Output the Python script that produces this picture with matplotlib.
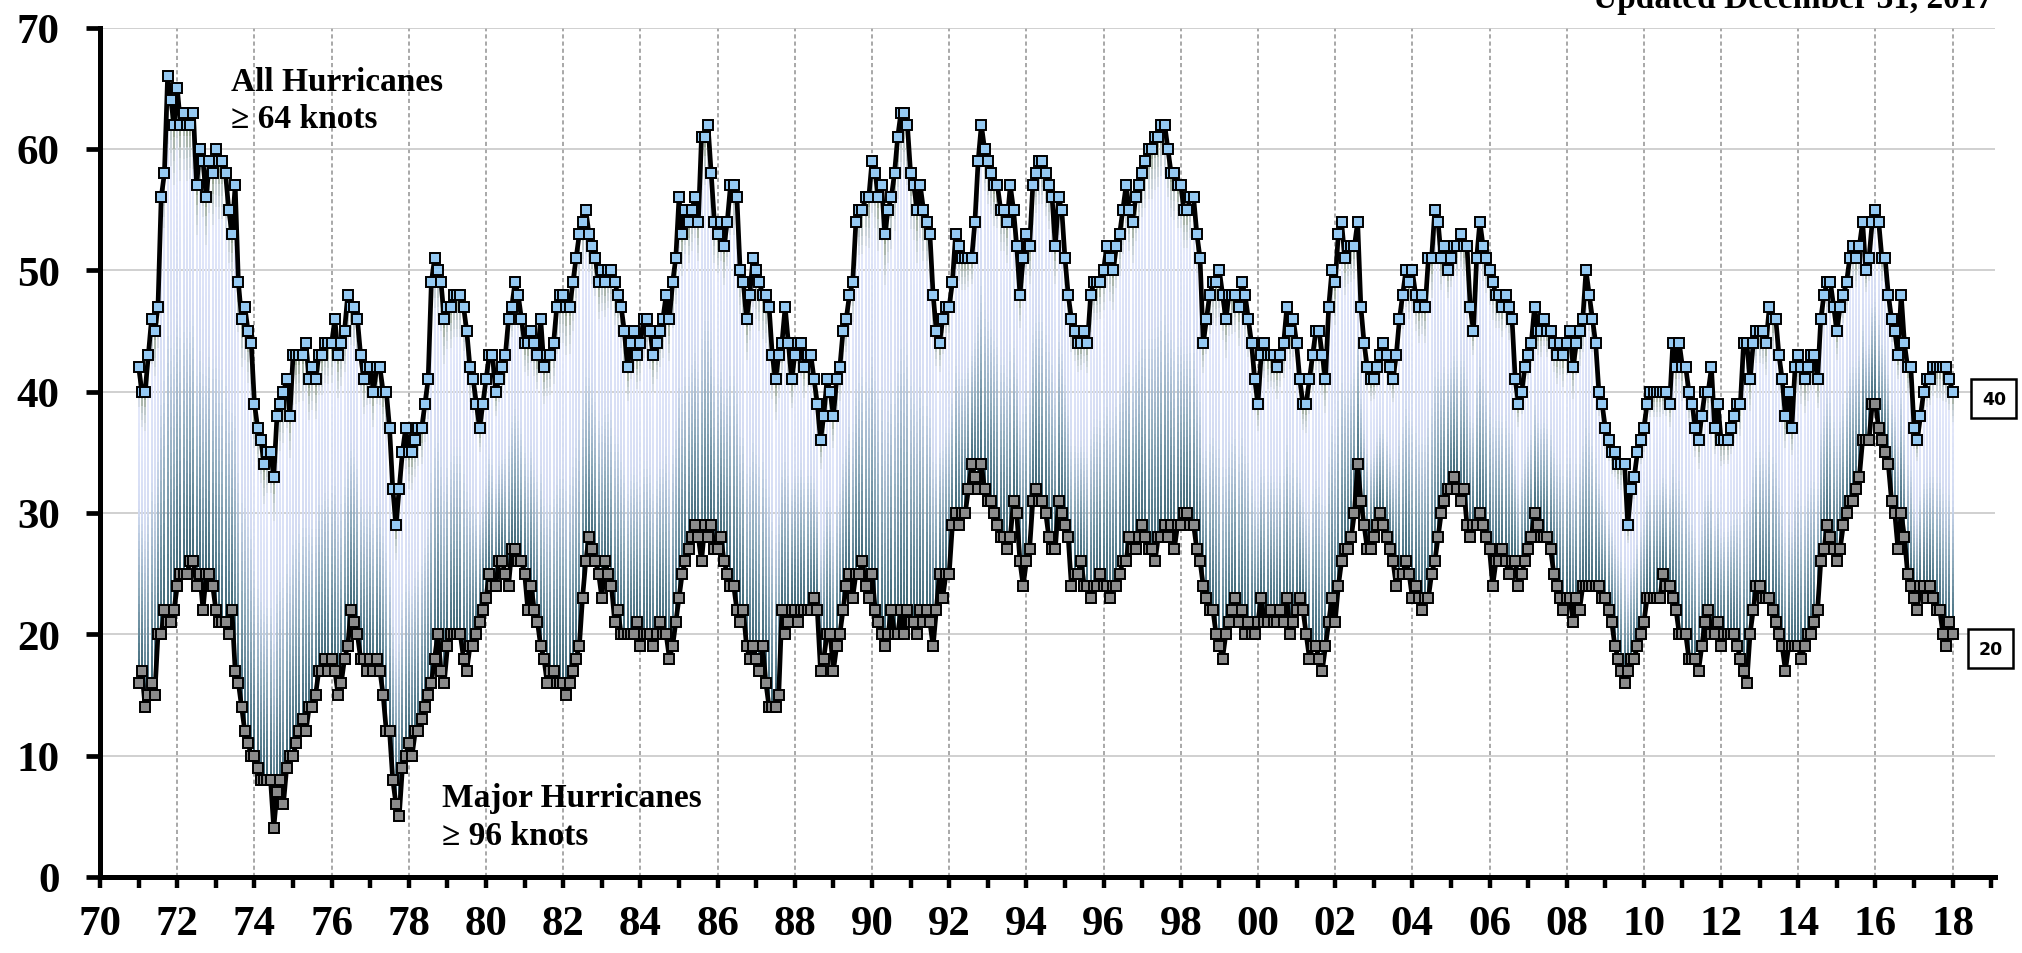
import numpy as np
import matplotlib
matplotlib.use("Agg")
import matplotlib.pyplot as plt
from matplotlib.collections import LineCollection
from matplotlib.colors import LinearSegmentedColormap

# 12-month running counts, one point per month starting Jan 1971
start_year = 1971
all_hurricanes = [
    42, 40, 40, 43, 46, 45, 47, 56, 58, 66, 64, 62,  # 1971
    65, 62, 63, 62, 62, 63, 57, 60, 59, 56, 59, 58,  # 1972
    60, 59, 59, 58, 55, 53, 57, 49, 46, 47, 45, 44,  # 1973
    39, 37, 36, 34, 35, 35, 33, 38, 39, 40, 41, 38,  # 1974
    43, 43, 43, 43, 44, 41, 42, 41, 43, 43, 44, 44,  # 1975
    44, 46, 43, 44, 45, 48, 47, 47, 46, 43, 41, 42,  # 1976
    42, 40, 42, 42, 40, 40, 37, 32, 29, 32, 35, 37,  # 1977
    35, 35, 36, 37, 37, 39, 41, 49, 51, 50, 49, 46,  # 1978
    47, 47, 48, 48, 48, 47, 45, 42, 41, 39, 37, 39,  # 1979
    41, 43, 43, 40, 41, 42, 43, 46, 47, 49, 48, 46,  # 1980
    44, 44, 45, 44, 43, 46, 42, 43, 43, 44, 47, 48,  # 1981
    48, 47, 47, 49, 51, 53, 54, 55, 53, 52, 51, 49,  # 1982
    50, 49, 50, 50, 49, 48, 47, 45, 42, 44, 45, 43,  # 1983
    44, 46, 46, 45, 43, 44, 45, 46, 48, 46, 49, 51,  # 1984
    56, 53, 55, 54, 55, 56, 54, 61, 61, 62, 58, 54,  # 1985
    53, 54, 52, 54, 57, 57, 56, 50, 49, 46, 48, 51,  # 1986
    50, 49, 48, 48, 47, 43, 41, 43, 44, 47, 44, 41,  # 1987
    43, 44, 44, 42, 43, 43, 41, 39, 36, 38, 41, 40,  # 1988
    38, 41, 42, 45, 46, 48, 49, 54, 55, 55, 56, 56,  # 1989
    59, 58, 56, 57, 53, 55, 56, 58, 61, 63, 63, 62,  # 1990
    58, 57, 55, 57, 55, 54, 53, 48, 45, 44, 46, 47,  # 1991
    47, 49, 53, 52, 51, 51, 51, 51, 54, 59, 62, 60,  # 1992
    59, 58, 57, 57, 55, 55, 54, 57, 55, 52, 48, 51,  # 1993
    53, 52, 57, 58, 59, 59, 58, 57, 56, 52, 56, 55,  # 1994
    51, 48, 46, 45, 44, 44, 45, 44, 48, 49, 49, 49,  # 1995
    50, 52, 51, 50, 52, 53, 55, 57, 55, 54, 56, 57,  # 1996
    58, 59, 60, 60, 61, 61, 62, 62, 60, 58, 58, 57,  # 1997
    57, 55, 55, 56, 56, 53, 51, 44, 46, 48, 49, 49,  # 1998
    50, 48, 46, 48, 48, 48, 47, 49, 48, 46, 44, 41,  # 1999
    39, 43, 44, 43, 43, 43, 42, 43, 44, 47, 45, 46,  # 2000
    44, 41, 39, 39, 41, 43, 45, 45, 43, 41, 47, 50,  # 2001
    49, 53, 54, 51, 52, 52, 52, 54, 47, 44, 42, 41,  # 2002
    41, 42, 43, 44, 43, 42, 41, 43, 46, 48, 50, 49,  # 2003
    50, 48, 47, 48, 47, 51, 51, 55, 54, 51, 52, 50,  # 2004
    51, 52, 52, 53, 52, 52, 47, 45, 51, 54, 52, 51,  # 2005
    50, 49, 48, 48, 47, 48, 47, 46, 41, 39, 40, 42,  # 2006
    43, 44, 47, 45, 45, 46, 45, 45, 44, 43, 44, 43,  # 2007
    44, 45, 42, 44, 45, 46, 50, 48, 46, 44, 40, 39,  # 2008
    37, 36, 35, 35, 34, 34, 34, 29, 32, 33, 35, 36,  # 2009
    37, 39, 40, 40, 40, 40, 40, 40, 39, 44, 42, 44,  # 2010
    42, 42, 40, 39, 37, 36, 38, 40, 40, 42, 37, 39,  # 2011
    36, 36, 36, 37, 38, 39, 39, 44, 44, 41, 44, 45,  # 2012
    45, 45, 44, 47, 46, 46, 43, 41, 38, 40, 37, 42,  # 2013
    43, 42, 41, 42, 43, 43, 41, 46, 48, 49, 49, 47,  # 2014
    45, 47, 48, 49, 51, 52, 51, 52, 54, 50, 51, 54,  # 2015
    55, 54, 51, 51, 48, 46, 45, 43, 48, 44, 42, 42,  # 2016
    37, 36, 38, 40, 41, 41, 42, 42, 42, 42, 42, 41, 40,  # 2017
]
major_hurricanes = [
    16, 17, 14, 15, 16, 15, 20, 20, 22, 21, 21, 22,  # 1971
    24, 25, 25, 25, 26, 26, 24, 25, 22, 25, 25, 24,  # 1972
    22, 21, 21, 21, 20, 22, 17, 16, 14, 12, 11, 10,  # 1973
    10, 9, 8, 8, 8, 8, 4, 7, 8, 6, 9, 10,  # 1974
    10, 11, 12, 13, 12, 14, 14, 15, 17, 17, 18, 17,  # 1975
    18, 17, 15, 16, 18, 19, 22, 21, 20, 18, 18, 17,  # 1976
    18, 17, 18, 17, 15, 12, 12, 8, 6, 5, 9, 10,  # 1977
    11, 10, 12, 12, 13, 14, 15, 16, 18, 20, 17, 16,  # 1978
    19, 20, 20, 20, 20, 18, 17, 19, 19, 20, 21, 22,  # 1979
    23, 25, 24, 24, 26, 26, 25, 24, 27, 27, 26, 26,  # 1980
    25, 22, 24, 22, 21, 19, 18, 16, 17, 17, 16, 16,  # 1981
    16, 15, 16, 17, 18, 19, 23, 26, 28, 27, 26, 25,  # 1982
    23, 26, 25, 24, 21, 22, 20, 20, 20, 20, 20, 21,  # 1983
    19, 20, 20, 20, 19, 20, 21, 20, 20, 18, 19, 21,  # 1984
    23, 25, 26, 27, 28, 29, 28, 26, 29, 28, 29, 27,  # 1985
    27, 28, 26, 25, 24, 24, 22, 21, 22, 19, 18, 19,  # 1986
    18, 17, 19, 16, 14, 14, 14, 15, 22, 20, 21, 22,  # 1987
    22, 21, 22, 22, 22, 22, 23, 22, 17, 18, 20, 20,  # 1988
    17, 19, 20, 22, 24, 25, 23, 25, 25, 26, 24, 23,  # 1989
    25, 22, 21, 20, 19, 20, 22, 20, 20, 22, 20, 22,  # 1990
    21, 21, 20, 22, 21, 22, 21, 19, 22, 25, 23, 25,  # 1991
    25, 29, 30, 29, 30, 30, 32, 34, 33, 32, 34, 32,  # 1992
    31, 31, 30, 29, 28, 28, 27, 28, 31, 30, 26, 24,  # 1993
    26, 27, 31, 32, 31, 31, 30, 28, 27, 27, 31, 30,  # 1994
    29, 28, 24, 25, 25, 26, 24, 24, 23, 24, 24, 25,  # 1995
    24, 24, 23, 24, 24, 25, 26, 26, 28, 27, 27, 28,  # 1996
    29, 28, 27, 27, 26, 28, 28, 29, 28, 29, 27, 29,  # 1997
    29, 30, 30, 29, 29, 27, 26, 24, 23, 22, 22, 20,  # 1998
    19, 18, 20, 21, 22, 23, 21, 22, 20, 21, 20, 20,  # 1999
    21, 23, 21, 21, 22, 21, 21, 22, 21, 23, 20, 21,  # 2000
    22, 23, 22, 20, 18, 19, 19, 18, 17, 19, 21, 23,  # 2001
    21, 24, 26, 27, 27, 28, 30, 34, 31, 29, 27, 27,  # 2002
    28, 29, 30, 29, 28, 27, 26, 24, 25, 25, 26, 25,  # 2003
    23, 24, 23, 22, 23, 23, 25, 26, 28, 30, 31, 32,  # 2004
    32, 33, 32, 31, 32, 29, 28, 29, 29, 30, 29, 28,  # 2005
    27, 24, 26, 26, 27, 26, 25, 26, 26, 24, 25, 26,  # 2006
    27, 28, 30, 29, 28, 28, 28, 27, 25, 24, 23, 22,  # 2007
    23, 23, 21, 23, 22, 24, 24, 24, 24, 24, 24, 23,  # 2008
    23, 22, 21, 19, 18, 17, 16, 17, 18, 18, 19, 20,  # 2009
    21, 23, 23, 23, 23, 23, 25, 24, 24, 23, 22, 20,  # 2010
    20, 20, 18, 18, 18, 17, 19, 21, 22, 20, 20, 21,  # 2011
    19, 20, 20, 20, 20, 19, 18, 17, 16, 20, 22, 24,  # 2012
    24, 23, 23, 23, 22, 21, 20, 19, 17, 19, 19, 19,  # 2013
    19, 18, 19, 20, 20, 21, 22, 26, 27, 29, 28, 27,  # 2014
    26, 27, 29, 30, 31, 31, 32, 33, 36, 36, 36, 39,  # 2015
    39, 37, 36, 35, 34, 31, 30, 27, 30, 28, 25, 24,  # 2016
    23, 22, 24, 24, 23, 24, 23, 22, 22, 20, 19, 21, 20,  # 2017
]

label_years = list(range(1970, 2019, 2))
minor_years = list(range(1971, 2020, 2))
y_ticks = list(range(0, 71, 10))
all_label = ["All Hurricanes", "\u2265 64 knots"]
major_label = ["Major Hurricanes", "\u2265 96 knots"]
updated_text = "Updated December 31, 2017"

plt.rcParams["font.family"] = ["Liberation Serif", "DejaVu Serif"]
plt.rcParams["font.weight"] = "bold"

x = start_year + np.arange(len(all_hurricanes)) / 12.0
top = np.array(all_hurricanes, float)
bot = np.array(major_hurricanes, float)

fig = plt.figure(figsize=(20.22, 9.54), dpi=100)
ax = fig.add_axes([0.0495, 0.0797, 0.9372, 0.8903])
ax.set_xlim(1970, 2019.1)
ax.set_ylim(0, 70)

# gradient drop lines between the two series
cmap = LinearSegmentedColormap.from_list("drop", [
    (0.0, "#8d9c82"), (0.06, "#bcc7c8"), (0.14, "#e3e8fb"), (0.45, "#d2dbf2"),
    (0.7, "#8eaabd"), (0.88, "#567d8e"), (1.0, "#386272")])
K = 40
frac = np.linspace(0, 1, K + 1)
segs, cols = [], []
for xi, t, b in zip(x, top, bot):
    ys = t + (b - t) * frac
    for k in range(K):
        segs.append([(xi, ys[k]), (xi, ys[k + 1])])
        cols.append(cmap((k + 0.5) / K))
ax.add_collection(LineCollection(segs, colors=cols, linewidths=1.4, capstyle="butt", zorder=2))

for vals, fc in [(top, "#95c9f2"), (bot, "#8b8b8b")]:
    ax.plot(x, vals, color="black", lw=3.4, zorder=3, solid_joinstyle="round")
    ax.plot(x, vals, ls="none", marker="s", ms=7.8, mfc=fc, mec="black", mew=1.4, zorder=4)

# axes styling
for s in ["top", "right"]:
    ax.spines[s].set_visible(False)
for s in ["left", "bottom"]:
    ax.spines[s].set_linewidth(3.6)
    ax.spines[s].set_zorder(5)
ax.set_yticks(y_ticks)
ax.set_xticks(label_years)
ax.set_xticklabels([f"{y % 100:02d}" for y in label_years])
ax.set_xticks(minor_years, minor=True)
ax.tick_params(axis="y", direction="out", length=10, width=3.4, pad=19, labelsize=31)
ax.tick_params(axis="x", which="both", direction="out", length=8, width=3.2, pad=12, labelsize=31)
ax.set_axisbelow(True)
ax.yaxis.grid(True, color="#c8c8c8", lw=1.2)
ax.xaxis.grid(True, which="major", color="#9a9a9a", lw=1.2, linestyle=(0, (2.5, 1.8)))

ax.text(1973.38, 64.9, all_label[0], fontsize=24, va="baseline", ha="left")
ax.text(1973.38, 61.8, all_label[1], fontsize=24, va="baseline", ha="left")
ax.text(1978.87, 5.84, major_label[0], fontsize=24, va="baseline", ha="left")
ax.text(1978.87, 2.7, major_label[1], fontsize=24, va="baseline", ha="left")

box = dict(boxstyle="square,pad=0.6", fc="white", ec="black", lw=1.8)
ax.text(2019.07, 39.4, f"{all_hurricanes[-1]}", ha="center", va="center", fontsize=12.5,
        family="DejaVu Sans", fontweight="bold", bbox=box, clip_on=False, zorder=6)
ax.text(2018.99, 18.8, f"{major_hurricanes[-1]}", ha="center", va="center", fontsize=12.5,
        family="DejaVu Sans", fontweight="bold", bbox=box, clip_on=False, zorder=6)

# the reference shows this line running off the top edge
fig.text(0.9856, 0.9916, updated_text, ha="right", va="baseline", fontsize=24)

fig.savefig("out.png", dpi=100)
